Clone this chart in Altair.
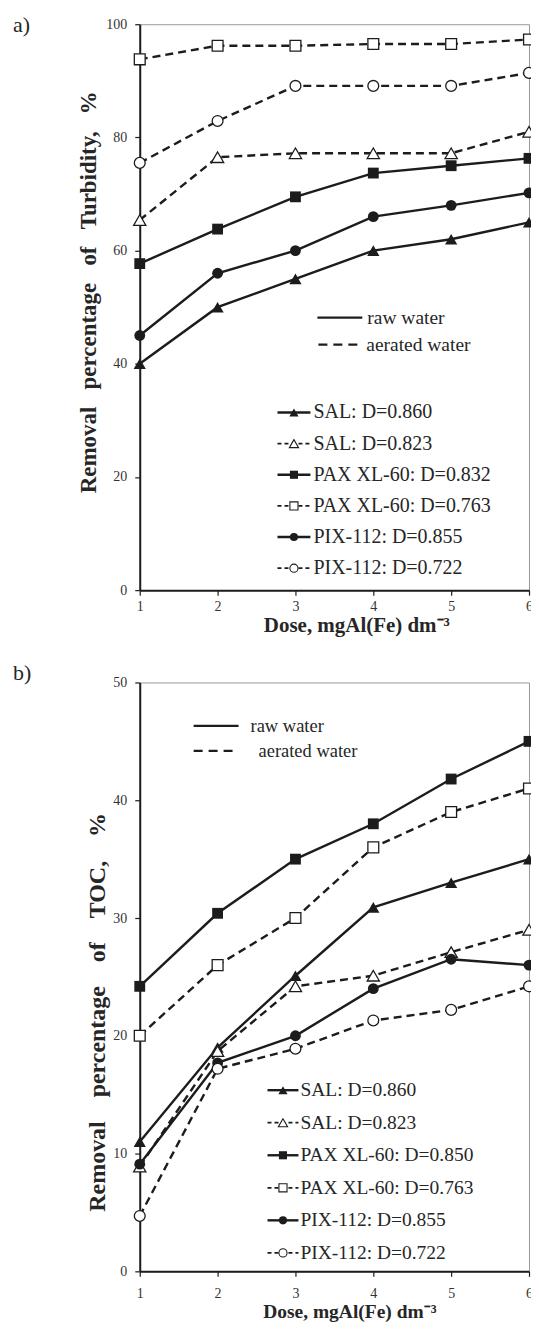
import altair as alt
import pandas as pd

# ---------------- data ----------------
dose = [1, 2, 3, 4, 5, 6]

chemicals = ["SAL", "SAL", "PAX", "PAX", "PIX", "PIX"]
waters = ["raw", "aerated", "raw", "aerated", "raw", "aerated"]

turb_labels = ["SAL: D=0.860", "SAL: D=0.823", "PAX XL-60: D=0.832",
               "PAX XL-60: D=0.763", "PIX-112: D=0.855", "PIX-112: D=0.722"]
toc_labels = ["SAL: D=0.860", "SAL: D=0.823", "PAX XL-60: D=0.850",
              "PAX XL-60: D=0.763", "PIX-112: D=0.855", "PIX-112: D=0.722"]

turb_sal_raw = [40.0, 50.0, 55.0, 60.0, 62.0, 65.0]
turb_sal_aer = [65.4, 76.5, 77.2, 77.2, 77.2, 81.0]
turb_pax_raw = [57.7, 63.8, 69.5, 73.7, 75.0, 76.3]
turb_pax_aer = [93.8, 96.2, 96.2, 96.5, 96.5, 97.3]
turb_pix_raw = [45.0, 56.0, 60.0, 66.0, 68.0, 70.2]
turb_pix_aer = [75.5, 82.9, 89.1, 89.1, 89.1, 91.4]

toc_sal_raw = [11.0, 19.0, 25.1, 30.9, 33.0, 35.0]
toc_sal_aer = [8.9, 18.7, 24.2, 25.1, 27.1, 29.0]
toc_pax_raw = [24.2, 30.4, 35.0, 38.0, 41.8, 45.0]
toc_pax_aer = [20.0, 26.0, 30.0, 36.0, 39.0, 41.0]
toc_pix_raw = [9.1, 17.7, 20.0, 24.0, 26.5, 26.0]
toc_pix_aer = [4.7, 17.2, 18.9, 21.3, 22.2, 24.2]

turb_series = [turb_sal_raw, turb_sal_aer, turb_pax_raw, turb_pax_aer, turb_pix_raw, turb_pix_aer]
toc_series = [toc_sal_raw, toc_sal_aer, toc_pax_raw, toc_pax_aer, toc_pix_raw, toc_pix_aer]

x_title = "Dose, mgAl(Fe) dm\u207b\u00b3"

# ---------------- styling ----------------
INK = "#1c1c1c"
TXT = "#262626"
FONT = "Liberation Serif"
SHAPE = {"SAL": "triangle-up", "PAX": "square", "PIX": "circle"}
MSIZE = {"triangle-up": 150, "square": 118, "circle": 118}
LSIZE = {"triangle-up": 85, "square": 66, "circle": 66}
ONE = pd.DataFrame({"k": [0]})
PLOT_W = 390


def text_layer(txt, x, y, size, weight="normal"):
    return alt.Chart(ONE).mark_text(
        text=txt, align="left", baseline="middle", font=FONT, fontSize=size,
        fontWeight=weight, color=TXT
    ).encode(x=alt.value(x), y=alt.value(y))


def seg_layer(x0, x1, y, dash, width):
    kw = dict(color=INK, strokeWidth=width)
    if dash:
        kw["strokeDash"] = dash
    return alt.Chart(ONE).mark_rule(**kw).encode(
        x=alt.value(x0), x2=alt.value(x1), y=alt.value(y))


def make_panel(series, labels, ymax, ystep, height, cfg):
    x_enc = alt.X(
        "dose:Q", scale=alt.Scale(domain=[1, 6], nice=False, zero=False),
        axis=alt.Axis(values=dose, format="d", labelPadding=cfg["xlab_pad"],
                      title=x_title, titleFontSize=cfg["xt_size"],
                      titleX=cfg["xt_x"], titleY=cfg["xt_y"],
                      titleBaseline="middle", titleAlign="center"))
    y_enc = alt.Y(
        "value:Q", scale=alt.Scale(domain=[0, ymax], nice=False, zero=True),
        axis=alt.Axis(values=list(range(0, ymax + 1, ystep)), format="d",
                      labelPadding=8, title=cfg["yt"], titleFontSize=cfg["yt_size"],
                      titleX=cfg["yt_x"], titleY=cfg["yt_y"],
                      titleBaseline="middle", titleAlign="center"))

    line_layers, point_layers = [], []
    for vals, chem, water in zip(series, chemicals, waters):
        df = pd.DataFrame({"dose": dose, "value": vals})
        base = alt.Chart(df).encode(x=x_enc, y=y_enc)
        kw = dict(color=INK, strokeWidth=2.4)
        if water == "aerated":
            kw["strokeDash"] = [8, 5]
        line_layers.append(base.mark_line(**kw))
        shp = SHAPE[chem]
        if water == "raw":
            pk = dict(filled=True, color=INK, opacity=1)
        else:
            pk = dict(filled=True, fill="white", stroke=INK, strokeWidth=1.3, opacity=1)
        point_layers.append(base.mark_point(shape=shp, size=MSIZE[shp], **pk))

    leg = []
    h = cfg["hdr"]
    leg.append(seg_layer(h["raw_x0"], h["raw_x1"], h["raw_y"], None, 2.4))
    leg.append(text_layer("raw water", h["raw_tx"], h["raw_y"], h["size"]))
    leg.append(seg_layer(h["aer_x0"], h["aer_x1"], h["aer_y"], [9, 6], 2.4))
    leg.append(text_layer("aerated water", h["aer_tx"], h["aer_y"], h["size"]))

    r = cfg["rows"]
    for i, (lab, chem, water) in enumerate(zip(labels, chemicals, waters)):
        yy = r["y0"] + i * r["dy"]
        if water == "raw":
            leg.append(seg_layer(r["x0"], r["x1"], yy, None, 2.4))
        else:
            leg.append(seg_layer(r["x0"], r["x1"], yy, [4, 3], 1.8))
        shp = SHAPE[chem]
        if water == "raw":
            pk = dict(filled=True, color=INK, opacity=1)
        else:
            pk = dict(filled=True, fill="white", stroke=INK, strokeWidth=1.1, opacity=1)
        leg.append(alt.Chart(ONE).mark_point(shape=shp, size=LSIZE[shp], **pk).encode(
            x=alt.value((r["x0"] + r["x1"]) / 2), y=alt.value(yy)))
        leg.append(text_layer(lab, r["tx"], yy, r["size"]))

    tag = alt.Chart(ONE).mark_text(
        text=cfg["tag"], align="left", baseline="middle", font=FONT, fontSize=22,
        color=TXT).encode(x=alt.value(-127), y=alt.value(cfg["tag_y"]))

    return alt.layer(*line_layers, *point_layers, *leg, tag).properties(
        width=PLOT_W, height=height)


cfg_a = dict(
    xlab_pad=4, xt_size=21, xt_x=217, xt_y=35,
    yt="Removal \u2002percentage \u2002of \u2002Turbidity, \u2002%",
    yt_size=23, yt_x=-51, yt_y=268,
    hdr=dict(raw_x0=178, raw_x1=223, raw_y=294, raw_tx=228,
             aer_x0=179, aer_x1=221, aer_y=321, aer_tx=227, size=19.5),
    rows=dict(x0=138, x1=171, tx=174, y0=389, dy=31.2, size=20),
    tag="a)", tag_y=1,
)
cfg_b = dict(
    xlab_pad=10, xt_size=19.5, xt_x=210, xt_y=40,
    yt="Removal\u2003percentage\u2003of\u2003TOC,\u2003%",
    yt_size=24, yt_x=-42, yt_y=330,
    hdr=dict(raw_x0=54, raw_x1=99, raw_y=43.5, raw_tx=111,
             aer_x0=54, aer_x1=96, aer_y=68.5, aer_tx=119, size=18.5),
    rows=dict(x0=128, x1=159, tx=161, y0=408.5, dy=32.6, size=19.5),
    tag="b)", tag_y=-9,
)

panel_a = make_panel(turb_series, turb_labels, 100, 20, 567, cfg_a)
panel_b = make_panel(toc_series, toc_labels, 50, 10, 590, cfg_b)

chart = alt.vconcat(panel_a, panel_b, spacing=92.5, bounds="flush").properties(
    padding={"left": 4, "top": 4, "right": -8, "bottom": 0},
).configure(font=FONT).configure_view(
    stroke="#9a9a9a", strokeWidth=1
).configure_axis(
    grid=False, domainColor=INK, domainWidth=2, tickColor=INK, tickWidth=1.2,
    tickSize=5, labelFont=FONT, labelFontSize=14, labelColor="#333333",
    labelFlush=False, titleFont=FONT, titleFontWeight="bold", titleColor=TXT,
)

chart.save("out.html", embed_options={"renderer": "svg", "actions": False})
